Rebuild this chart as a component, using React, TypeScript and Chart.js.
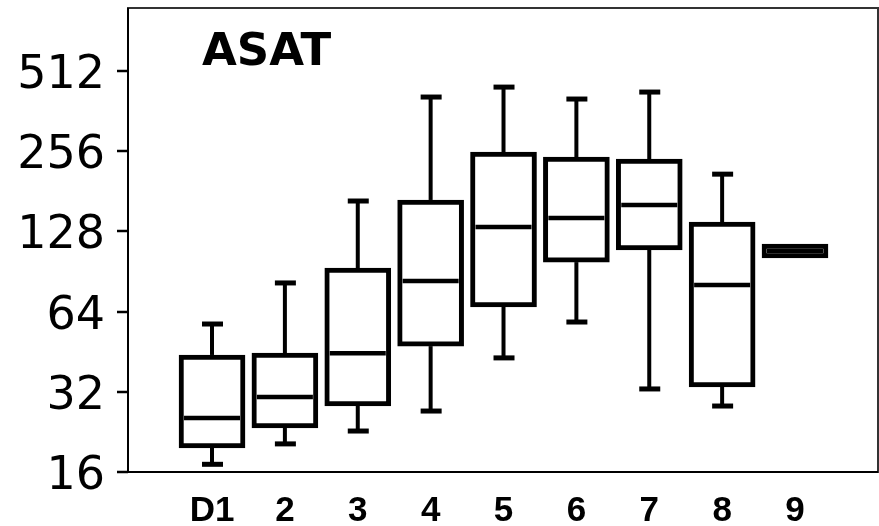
import React, { useEffect, useRef } from "react";
import { Chart, registerables } from "chart.js";

Chart.register(...registerables);

const categories = ["D1", "2", "3", "4", "5", "6", "7", "8", "9"];
const whiskerLow = [17.1, 20.4, 22.8, 27.1, 42.9, 58.5, 32.8, 28.3, 101.7];
const q1 = [19.7, 23.4, 28.3, 47.5, 66.6, 98.2, 109, 33.4, 101.7];
const median = [25.5, 30.6, 44.7, 83.4, 133, 143.7, 160.8, 80.5, 108];
const q3 = [44.0, 44.7, 93.3, 168, 254, 243.5, 239, 138.8, 114.8];
const whiskerHigh = [57.5, 82.0, 166.5, 409, 445.7, 402, 427, 210, 114.8];
const yTicks = [16, 32, 64, 128, 256, 512];
const title = "ASAT";

const boxPlugin = {
  id: "boxExtras",
  afterDatasetsDraw(chart: any) {
    const { ctx, scales } = chart;
    const xs = scales.x;
    const ys = scales.y;
    const half = 33;
    const bw = 5;
    ctx.save();
    ctx.strokeStyle = "#000";
    ctx.lineCap = "butt";
    for (let i = 0; i < categories.length; i++) {
      const x = xs.getPixelForValue(i);
      const pHigh = ys.getPixelForValue(whiskerHigh[i]);
      const pQ3 = ys.getPixelForValue(q3[i]);
      const pQ1 = ys.getPixelForValue(q1[i]);
      const pLow = ys.getPixelForValue(whiskerLow[i]);
      const pMed = ys.getPixelForValue(median[i]);
      ctx.lineWidth = 4;
      if (whiskerHigh[i] > q3[i]) {
        ctx.beginPath();
        ctx.moveTo(x, pQ3);
        ctx.lineTo(x, pHigh);
        ctx.stroke();
        ctx.lineWidth = 5;
        ctx.beginPath();
        ctx.moveTo(x - 10, pHigh);
        ctx.lineTo(x + 11, pHigh);
        ctx.stroke();
      }
      ctx.lineWidth = 4;
      if (whiskerLow[i] < q1[i]) {
        ctx.beginPath();
        ctx.moveTo(x, pQ1);
        ctx.lineTo(x, pLow);
        ctx.stroke();
        ctx.lineWidth = 5;
        ctx.beginPath();
        ctx.moveTo(x - 10, pLow);
        ctx.lineTo(x + 11, pLow);
        ctx.stroke();
      }
      ctx.lineWidth = 4.5;
      ctx.beginPath();
      ctx.moveTo(x - half + bw, pMed);
      ctx.lineTo(x + half - bw, pMed);
      ctx.stroke();
    }
    ctx.restore();
  },
  afterDraw(chart: any) {
    const { ctx, chartArea, scales } = chart;
    ctx.save();
    ctx.lineWidth = 2;
    ctx.strokeStyle = "#333";
    ctx.strokeRect(chartArea.left, chartArea.top, chartArea.right - chartArea.left, chartArea.bottom - chartArea.top);
    ctx.strokeStyle = "#000";
    ctx.beginPath();
    ctx.moveTo(chartArea.left, chartArea.top);
    ctx.lineTo(chartArea.left, chartArea.bottom);
    ctx.lineTo(chartArea.right, chartArea.bottom);
    ctx.stroke();
    ctx.lineWidth = 2.5;
    ctx.strokeStyle = "#000";
    for (const v of yTicks) {
      const y = Math.round(scales.y.getPixelForValue(v));
      ctx.beginPath();
      ctx.moveTo(chartArea.left - 11, y);
      ctx.lineTo(chartArea.left, y);
      ctx.stroke();
    }
    ctx.fillStyle = "#000";
    ctx.font = 'bold 45px "DejaVu Sans"';
    ctx.textBaseline = "alphabetic";
    ctx.textAlign = "left";
    ctx.fillText(title, chartArea.left + 74, chartArea.top + 57);
    ctx.restore();
  },
};

export default function App() {
  const ref = useRef<HTMLCanvasElement>(null);
  useEffect(() => {
    if (!ref.current) return;
    const chart = new Chart(ref.current, {
      type: "bar",
      data: {
        datasets: [
          {
            data: categories.map((_, i) => ({ x: i, y: [q1[i], q3[i]] })) as any,
            backgroundColor: "#fff",
            borderColor: "#000",
            borderWidth: 5,
            borderSkipped: false,
            barThickness: 66,
          } as any,
        ],
      },
      options: {
        animation: false,
        responsive: false,
        layout: { padding: { left: 0, top: 8, right: 1, bottom: 0 } },
        plugins: { legend: { display: false }, tooltip: { enabled: false }, title: { display: false } },
        scales: {
          x: {
            type: "linear",
            offset: false,
            min: -1.153,
            max: 9.139,
            grid: { display: false, drawTicks: false, offset: false },
            border: { display: false },
            afterBuildTicks: (s: any) => {
              s.ticks = categories.map((_, i) => ({ value: i }));
            },
            afterFit: (s: any) => {
              s.height = 54;
              s.paddingLeft = 0;
              s.paddingRight = 0;
            },
            ticks: {
              autoSkip: false,
              maxRotation: 0,
              minRotation: 0,
              padding: 18,
              color: "#000",
              font: { family: '"Liberation Sans"', size: 35, weight: "bold" },
              callback: (v: any) => categories[Math.round(Number(v))] ?? "",
            },
          },
          y: {
            type: "logarithmic",
            min: 16,
            max: 883,
            grid: { display: false, drawTicks: true, tickLength: 10 },
            border: { display: false },
            afterBuildTicks: (s: any) => {
              s.ticks = yTicks.map((v) => ({ value: v }));
            },
            afterFit: (s: any) => {
              s.width = 128;
              s.paddingTop = 0;
              s.paddingBottom = 0;
            },
            ticks: {
              autoSkip: false,
              padding: 13,
              labelOffset: 5,
              color: "#000",
              font: { family: '"DejaVu Sans"', size: 46 },
              callback: (v: any) => String(v),
            },
          },
        },
      },
      plugins: [boxPlugin],
    });
    return () => chart.destroy();
  }, []);
  return (
    <div style={{ position: "fixed", left: 0, top: 0, width: 879, height: 526, background: "#fff" }}>
      <canvas ref={ref} width={879} height={526} style={{ display: "block" }} />
    </div>
  );
}
